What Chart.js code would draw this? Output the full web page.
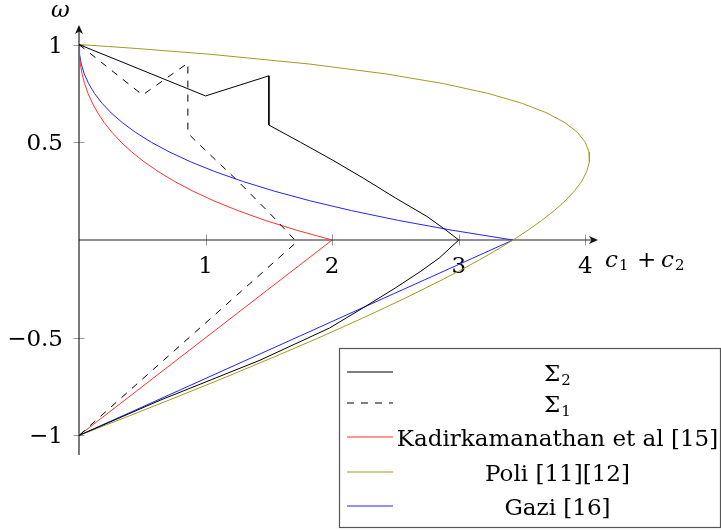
<!DOCTYPE html>
<html>
<head>
<meta charset="utf-8">
<script src="https://cdn.jsdelivr.net/npm/chart.js@4.4.0/dist/chart.umd.min.js"></script>
<style>
html,body{margin:0;padding:0;background:#fff;}
canvas{display:block;}
</style>
</head>
<body>
<canvas id="c" width="721" height="530"></canvas>
<script>
// ---- data (c1+c2 on x, omega on y) ----
const sigma2C = [0, 1.0, 1.5, 1.5, 1.75, 2.0, 2.25, 2.5, 2.75, 2.9, 3.0, 2.85, 2.7, 2.5, 2.25, 1.98, 1.43, 0.64, 0];
const sigma2W = [1, 0.737, 0.84, 0.588, 0.50, 0.41, 0.315, 0.215, 0.12, 0.05, 0, -0.09, -0.16, -0.245, -0.345, -0.45, -0.615, -0.82, -1];

const sigma1C = [0, 0.502, 0.86, 0.86, 0.955, 1.232, 1.508, 1.72, 0];
const sigma1W = [1, 0.742, 0.905, 0.546, 0.486, 0.316, 0.136, -0.01, -1];

const kadirC = [0, 0.0026, 0.0105, 0.0243, 0.0444, 0.0714, 0.1059, 0.1485, 0.2, 0.2613, 0.3333, 0.4172, 0.5143, 0.6259, 0.7538, 0.9, 1.0667, 1.2565, 1.4727, 1.719, 2.0, 0];
const kadirW = [1, 0.95, 0.9, 0.85, 0.8, 0.75, 0.7, 0.65, 0.6, 0.55, 0.5, 0.45, 0.4, 0.35, 0.3, 0.25, 0.2, 0.15, 0.1, 0.05, 0, -1];

const poliC = [0, 0.233, 0.453, 1.04, 1.824, 2.422, 2.88, 3.231, 3.497, 3.696, 3.84, 3.939, 4.0, 4.029, 4.032, 4.011, 3.971, 3.913, 3.84, 3.754, 3.655, 3.547, 3.429, 3.302, 3.168, 3.027, 2.88, 2.569, 2.24, 1.895, 1.536, 1.166, 0.785, 0.397, 0];
const poliW = [1, 0.99, 0.98, 0.95, 0.9, 0.85, 0.8, 0.75, 0.7, 0.65, 0.6, 0.55, 0.5, 0.45, 0.4, 0.35, 0.3, 0.25, 0.2, 0.15, 0.1, 0.05, 0, -0.05, -0.1, -0.15, -0.2, -0.3, -0.4, -0.5, -0.6, -0.7, -0.8, -0.9, -1];

const gaziC = [0, 0.0044, 0.018, 0.0417, 0.0762, 0.1224, 0.1815, 0.2546, 0.3429, 0.4479, 0.5714, 0.7152, 0.8816, 1.073, 1.2923, 1.5429, 1.8286, 2.154, 2.5247, 2.9469, 3.4286, 0];
const gaziW = [1, 0.95, 0.9, 0.85, 0.8, 0.75, 0.7, 0.65, 0.6, 0.55, 0.5, 0.45, 0.4, 0.35, 0.3, 0.25, 0.2, 0.15, 0.1, 0.05, 0, -1];

const xTicks = [1, 2, 3, 4];
const xTickLabels = ['1', '2', '3', '4'];
const yTicks = [1, 0.5, -0.5, -1];
const yTickLabels = ['1', '0.5', '\u22120.5', '\u22121'];

const seriesNames = ['\u03A3\u2082', '\u03A3\u2081', 'Kadirkamanathan et al [15]', 'Poli [11][12]', 'Gazi [16]'];
const legendLabels = [
  [{t: '\u03A3'}, {t: '2', sub: true}],
  [{t: '\u03A3'}, {t: '1', sub: true}],
  [{t: 'Kadirkamanathan et al [15]'}],
  [{t: 'Poli [11][12]'}],
  [{t: 'Gazi [16]'}]
];
const seriesColors = ['#000000', '#000000', '#ff3030', '#a39a22', '#2222ff'];
const seriesDash = [[], [7, 7], [], [], []];

function pts(cs, ws) { return cs.map((c, i) => ({x: c, y: ws[i]})); }

const FONT = '"DejaVu Serif", serif';
const FS = 23, FSUB = 15;

function drawSegments(ctx, segs, cx, baseline) {
  let w = 0;
  segs.forEach(s => {
    ctx.font = (s.sub ? FSUB : FS) + 'px ' + FONT;
    s.w = ctx.measureText(s.t).width;
    w += s.w + (s.sub ? 1 : 0);
  });
  let x = cx - w / 2;
  ctx.textAlign = 'left';
  ctx.textBaseline = 'alphabetic';
  segs.forEach(s => {
    ctx.font = (s.sub ? FSUB : FS) + 'px ' + FONT;
    if (s.sub) x += 1;
    ctx.fillText(s.t, x, baseline + (s.sub ? 4 : 0));
    x += s.w;
  });
}

function arrowHead(ctx, x, y, dx, dy) {
  const L = 9, W = 4, N = 6.5;
  const nx = -dy, ny = dx;
  ctx.beginPath();
  ctx.moveTo(x, y);
  ctx.lineTo(x - dx * L + nx * W, y - dy * L + ny * W);
  ctx.lineTo(x - dx * N, y - dy * N);
  ctx.lineTo(x - dx * L - nx * W, y - dy * L - ny * W);
  ctx.closePath();
  ctx.fill();
}

const axesPlugin = {
  id: 'axesPlugin',
  beforeDatasetsDraw(chart) {
    const ctx = chart.ctx;
    const xs = chart.scales.x, ys = chart.scales.y;
    const x0 = xs.getPixelForValue(0), y0 = ys.getPixelForValue(0);
    const xEnd = xs.getPixelForValue(xs.max);
    const yTop = ys.getPixelForValue(ys.max), yBot = ys.getPixelForValue(ys.min);
    ctx.save();
    ctx.strokeStyle = '#9a9a9a';
    ctx.lineWidth = 1;
    xTicks.forEach(v => {
      const p = Math.round(xs.getPixelForValue(v)) + 0.5;
      ctx.beginPath(); ctx.moveTo(p, y0 - 5.5); ctx.lineTo(p, y0 + 5.5); ctx.stroke();
    });
    yTicks.forEach(v => {
      const p = Math.round(ys.getPixelForValue(v)) + 0.5;
      ctx.beginPath(); ctx.moveTo(x0 - 5.5, p); ctx.lineTo(x0 + 5.5, p); ctx.stroke();
    });
    ctx.strokeStyle = '#222';
    ctx.fillStyle = '#111';
    ctx.lineWidth = 1.2;
    ctx.beginPath(); ctx.moveTo(x0, y0); ctx.lineTo(xEnd - 5, y0); ctx.stroke();
    arrowHead(ctx, xEnd, y0, 1, 0);
    ctx.beginPath(); ctx.moveTo(x0, yBot); ctx.lineTo(x0, yTop + 5); ctx.stroke();
    arrowHead(ctx, x0, yTop, 0, -1);
    ctx.fillStyle = '#000';
    ctx.font = FS + 'px ' + FONT;
    ctx.textBaseline = 'alphabetic';
    ctx.textAlign = 'center';
    xTicks.forEach((v, i) => ctx.fillText(xTickLabels[i], xs.getPixelForValue(v), y0 + 33));
    ctx.textAlign = 'right';
    yTicks.forEach((v, i) => ctx.fillText(yTickLabels[i], x0 - 16, ys.getPixelForValue(v) + 8));
    // axis labels
    ctx.textAlign = 'left';
    ctx.font = 'italic ' + FS + 'px ' + FONT;
    ctx.fillText('\u03C9', x0 - 28, yTop - 8);
    const lb = y0 + 27;
    const cx1 = xEnd + 7, cx2 = xEnd + 63;
    const cw = ctx.measureText('c').width;
    ctx.fillText('c', cx1, lb);
    ctx.fillText('c', cx2, lb);
    ctx.font = FS + 'px ' + FONT;
    ctx.fillText('+', xEnd + 39, lb);
    ctx.font = FSUB + 'px ' + FONT;
    ctx.fillText('1', cx1 + cw + 1, lb + 3);
    ctx.fillText('2', cx2 + cw + 1, lb + 3);
    ctx.restore();
  },
  afterDatasetsDraw(chart) {
    const ctx = chart.ctx;
    ctx.save();
    const bx = 339.5, by = 348.5, bw = 381, bh = 179;
    ctx.fillStyle = '#fff';
    ctx.fillRect(bx, by, bw, bh);
    ctx.strokeStyle = '#555';
    ctx.lineWidth = 1.2;
    ctx.strokeRect(bx, by, bw, bh);
    const rowY = [372, 403, 437, 472, 506];
    legendLabels.forEach((segs, i) => {
      const y = rowY[i];
      ctx.strokeStyle = seriesColors[i];
      ctx.lineWidth = 1.1;
      ctx.setLineDash(seriesDash[i]);
      ctx.beginPath(); ctx.moveTo(347, y); ctx.lineTo(393, y); ctx.stroke();
      ctx.setLineDash([]);
      ctx.fillStyle = '#000';
      drawSegments(ctx, segs, 557.5, y + 8.5);
    });
    ctx.restore();
  }
};

const seriesData = [
  pts(sigma2C, sigma2W),
  pts(sigma1C, sigma1W),
  pts(kadirC, kadirW),
  pts(poliC, poliW),
  pts(gaziC, gaziW)
];

new Chart(document.getElementById('c'), {
  type: 'scatter',
  data: {
    datasets: seriesData.map((d, i) => ({
      label: seriesNames[i],
      data: d,
      borderColor: seriesColors[i],
      backgroundColor: seriesColors[i],
      borderDash: seriesDash[i],
      borderWidth: 1,
      showLine: true,
      pointRadius: 0,
      pointHoverRadius: 0,
      fill: false,
      tension: 0
    }))
  },
  options: {
    responsive: false,
    animation: false,
    devicePixelRatio: 1,
    layout: {padding: {left: 79, right: 123, top: 25, bottom: 75}},
    scales: {
      x: {type: 'linear', min: 0, max: 4.1, display: false},
      y: {type: 'linear', min: -1.1, max: 1.1, display: false}
    },
    plugins: {legend: {display: false}, tooltip: {enabled: false}}
  },
  plugins: [axesPlugin]
});
</script>
</body>
</html>
